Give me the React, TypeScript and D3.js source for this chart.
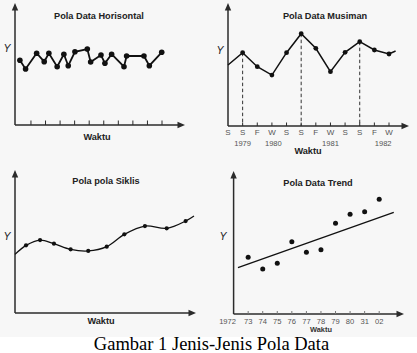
import React from "react";
import * as d3 from "d3";

// Pola Data Horisontal: irregular time points (t) and values
const horisT = [0.24, 0.63, 1.39, 1.91, 2.23, 2.8, 3.26, 3.56, 4.02, 4.87, 5.1, 5.81, 6.08, 6.54, 7.39, 7.57, 8.76, 9.13, 9.98];
const horisY = [54, 46.7, 59.8, 52.8, 59.8, 48.6, 59, 49.4, 61, 63.3, 52.5, 58.3, 51.4, 59, 48.6, 57.5, 57.5, 49.4, 60.6];
const horisTicks = [1, 2, 3, 4, 5, 6, 7, 8, 9, 10];

// Pola Data Musiman: quarterly seasons 1979-1982
const seasonLabels = ["S", "S", "F", "W", "S", "S", "F", "W", "S", "S", "F", "W"];
const seasonX = [0, 1, 2, 3, 4, 5, 6, 7, 8, 9, 10, 11, 11.45];
const seasonY = [50.4, 60.6, 49, 42.1, 60.6, 76.3, 64.2, 44.9, 60.9, 69.7, 62.8, 59.5, 62];
const seasonPeaks = [1, 5, 9];
const seasonYears = ["1979", "1980", "1981", "1982"];
const seasonYearPos = [1, 3.1, 7, 10.6];

// Pola pola Siklis: smooth cycle
const siklisT = [0, 0.74, 1.68, 2.61, 3.73, 4.91, 6.15, 7.33, 8.71, 10.17, 11.44, 12];
const siklisY = [41, 47.3, 51, 48.5, 44.5, 43.4, 46.4, 55, 60.8, 59.2, 64.3, 67.8];

// Pola Data Trend: yearly observations and fitted line
const trendYears = [1973, 1974, 1975, 1976, 1977, 1978, 1979, 1980, 1981, 1982];
const trendY = [39.9, 31.7, 35.7, 50.9, 43.5, 45.3, 63.9, 70.2, 72, 80.8];
const trendLineX = [1972.3, 1983];
const trendLineY = [32.6, 71.6];
const trendTickLabels = ["1972", "73", "74", "75", "76", "77", "78", "79", "80", "31", "02"];

const AXIS = "#2b2b2b";
const INK = "#111";
const TICK_TXT = "#555";
const sans = "'Liberation Sans', Arial, sans-serif";

interface AxesProps {
  ox: number;
  oy: number;
  top: number;
  right: number;
}

function Axes({ ox, oy, top, right }: AxesProps) {
  return (
    <g>
      <line x1={ox} y1={oy} x2={ox} y2={top + 6} stroke={AXIS} strokeWidth={1.5} />
      <line x1={ox} y1={oy} x2={right - 6} y2={oy} stroke={AXIS} strokeWidth={1.5} />
      <path d={`M${ox},${top} L${ox - 3.2},${top + 7.5} L${ox + 3.2},${top + 7.5} Z`} fill={AXIS} />
      <path d={`M${right},${oy} L${right - 7.5},${oy - 3.2} L${right - 7.5},${oy + 3.2} Z`} fill={AXIS} />
    </g>
  );
}

function Title({ x, y, text }: { x: number; y: number; text: string }) {
  return (
    <text x={x} y={y} textAnchor="middle" fontFamily={sans} fontWeight="bold" fontSize={9.2} fill="#222">
      {text}
    </text>
  );
}

function YLabel({ x, y }: { x: number; y: number }) {
  return (
    <text x={x} y={y} textAnchor="middle" fontFamily={sans} fontStyle="italic" fontSize={10.5} fill="#222">
      Y
    </text>
  );
}

function App() {
  // panel 1
  const x1 = d3.scaleLinear().domain([0, 10]).range([16.4, 162]);
  const y1 = d3.scaleLinear().domain([0, 100]).range([125, 5]);
  const line1 = d3
    .line<number>()
    .x((_, i) => x1(horisT[i]))
    .y((d) => y1(d));

  // panel 2
  const x2 = d3.scaleLinear().domain([0, 11]).range([228, 389]);
  const y2 = d3.scaleLinear().domain([0, 100]).range([126, 5]);
  const line2 = d3
    .line<number>()
    .x((_, i) => x2(seasonX[i]))
    .y((d) => y2(d));

  // panel 3
  const x3 = d3.scaleLinear().domain([0, 12]).range([15, 194]);
  const y3 = d3.scaleLinear().domain([0, 100]).range([313, 170]);
  const line3 = d3
    .line<number>()
    .x((_, i) => x3(siklisT[i]))
    .y((d) => y3(d))
    .curve(d3.curveCatmullRom.alpha(0.5));

  // panel 4
  const x4 = d3.scaleLinear().domain([1972, 1982]).range([233.6, 379.2]);
  const y4 = d3.scaleLinear().domain([0, 100]).range([314, 172]);
  const line4 = d3
    .line<number>()
    .x((_, i) => x4(trendLineX[i]))
    .y((d) => y4(d));

  return (
    <svg width={417} height={353} style={{ position: "absolute", left: 0, top: 0 }}>
      <rect x={0} y={0} width={417} height={337} fill="#f7f7f7" />
      <rect x={0} y={337} width={417} height={16} fill="#ffffff" />

      {/* Horisontal */}
      <g>
        <Axes ox={15} oy={125} top={3} right={185} />
        {horisTicks.map((t) => (
          <line key={t} x1={x1(t)} x2={x1(t)} y1={125} y2={120.5} stroke={AXIS} strokeWidth={1} />
        ))}
        <path d={line1(horisY) || ""} fill="none" stroke={INK} strokeWidth={1.8} />
        {horisY.map((v, i) => (
          <circle key={i} cx={x1(horisT[i])} cy={y1(v)} r={2.8} fill={INK} />
        ))}
        <Title x={99} y={18.5} text="Pola Data Horisontal" />
        <YLabel x={7} y={52} />
        <text x={97} y={139.5} textAnchor="middle" fontFamily={sans} fontWeight="bold" fontSize={9.2} fill="#222">
          Waktu
        </text>
      </g>

      {/* Musiman */}
      <g>
        <Axes ox={228} oy={126} top={3} right={409} />
        {seasonLabels.map((s, i) =>
          i > 0 ? (
            <line key={i} x1={x2(i)} x2={x2(i)} y1={126} y2={122.5} stroke={AXIS} strokeWidth={1} />
          ) : null
        )}
        {seasonPeaks.map((i) => (
          <line
            key={i}
            x1={x2(seasonX[i])}
            x2={x2(seasonX[i])}
            y1={y2(seasonY[i])}
            y2={126}
            stroke="#333"
            strokeWidth={1}
            strokeDasharray="3.5,2.5"
          />
        ))}
        <path d={line2(seasonY) || ""} fill="none" stroke={INK} strokeWidth={1.5} />
        {seasonY.map((v, i) =>
          i > 0 && i < 12 ? <circle key={i} cx={x2(seasonX[i])} cy={y2(v)} r={2.4} fill={INK} /> : null
        )}
        {seasonLabels.map((s, i) => (
          <text key={i} x={x2(i)} y={135} textAnchor="middle" fontFamily={sans} fontSize={8} fill={TICK_TXT}>
            {s}
          </text>
        ))}
        {seasonYears.map((yr, i) => (
          <text key={yr} x={x2(seasonYearPos[i])} y={146} textAnchor="middle" fontFamily={sans} fontSize={7.6} fill={TICK_TXT}>
            {yr}
          </text>
        ))}
        <Title x={325} y={19} text="Pola Data Musiman" />
        <YLabel x={220} y={54} />
        <text x={308} y={153.5} textAnchor="middle" fontFamily={sans} fontWeight="bold" fontSize={9.2} fill="#222">
          Waktu
        </text>
      </g>

      {/* Siklis */}
      <g>
        <Axes ox={15} oy={313} top={170} right={196} />
        <path d={line3(siklisY) || ""} fill="none" stroke={INK} strokeWidth={1.3} />
        {siklisY.map((v, i) =>
          i > 0 && i < siklisY.length - 1 ? (
            <circle key={i} cx={x3(siklisT[i])} cy={y3(v)} r={2.1} fill={INK} />
          ) : null
        )}
        <Title x={106} y={184} text="Pola pola Siklis" />
        <YLabel x={7} y={240} />
        <text x={101} y={323.5} textAnchor="middle" fontFamily={sans} fontWeight="bold" fontSize={9.2} fill="#222">
          Waktu
        </text>
      </g>

      {/* Trend */}
      <g>
        <Axes ox={233.6} oy={314} top={171} right={404} />
        {trendYears.map((yr) => (
          <line key={yr} x1={x4(yr)} x2={x4(yr)} y1={314} y2={311} stroke="#777" strokeWidth={1} />
        ))}
        <path d={line4(trendLineY) || ""} fill="none" stroke={INK} strokeWidth={1.3} />
        {trendY.map((v, i) => (
          <circle key={i} cx={x4(trendYears[i])} cy={y4(v)} r={2.5} fill={INK} />
        ))}
        {trendTickLabels.map((lbl, i) => (
          <text
            key={i}
            x={i === 0 ? x4(1972) - 6 : x4(1972 + i)}
            y={323.5}
            textAnchor="middle"
            fontFamily={sans}
            fontSize={7.6}
            fill={TICK_TXT}
          >
            {lbl}
          </text>
        ))}
        <Title x={318} y={186} text="Pola Data Trend" />
        <YLabel x={223} y={240} />
        <text x={321} y={332.3} textAnchor="middle" fontFamily={sans} fontWeight="bold" fontSize={7.4} fill="#333">
          Waktu
        </text>
      </g>

      <text x={211.5} y={349.5} textAnchor="middle" fontFamily="'Liberation Serif', 'Times New Roman', serif" fontSize={18.5} fill="#000">
        Gambar 1 Jenis-Jenis Pola Data
      </text>
    </svg>
  );
}

export default App;
